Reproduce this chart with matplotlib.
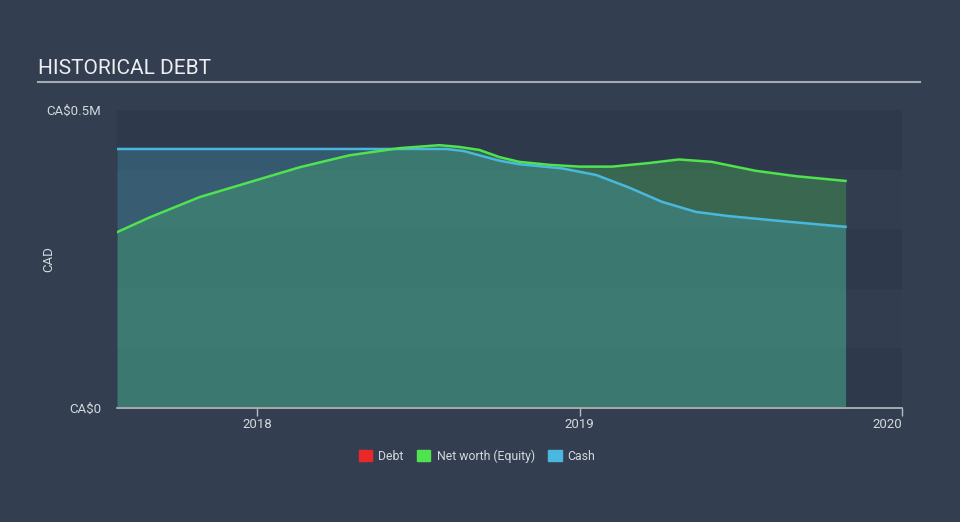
import matplotlib
matplotlib.use("Agg")
import matplotlib.pyplot as plt
from matplotlib.patches import Patch

plt.rcParams['font.family'] = ['Roboto', 'DejaVu Sans']

# values (x in fractional years, y in CA$ millions)
networth_x = [2017.565, 2017.667, 2017.822, 2017.977, 2018.132, 2018.286, 2018.441,
              2018.565, 2018.627, 2018.689, 2018.751, 2018.813, 2018.906, 2018.999,
              2019.101, 2019.215, 2019.308, 2019.410, 2019.546, 2019.670, 2019.825]
networth_y = [0.295, 0.320, 0.354, 0.379, 0.404, 0.424, 0.436,
              0.441, 0.438, 0.433, 0.421, 0.413, 0.408, 0.405,
              0.405, 0.411, 0.417, 0.413, 0.398, 0.389, 0.381]

cash_x = [2017.565, 2018.587, 2018.642, 2018.689, 2018.751, 2018.813, 2018.946,
          2019.051, 2019.153, 2019.255, 2019.361, 2019.463, 2019.618, 2019.825]
cash_y = [0.4346, 0.4346, 0.431, 0.424, 0.415, 0.409, 0.402,
          0.391, 0.370, 0.346, 0.329, 0.322, 0.314, 0.304]

debt_x = [2017.565, 2019.825]
debt_y = [0.0, 0.0]

year_ticks = [2018, 2019, 2020]

bg = "#333f50"
txt = "#d4d8de"
c_debt = "#e8282b"
c_nw = "#4fe34f"
c_cash = "#4ab8de"

fig = plt.figure(figsize=(9.6, 5.22), dpi=100, facecolor=bg)
ax = fig.add_axes([117/960, 1 - 408/522, (902-117)/960, (408-110)/522])
ax.set_facecolor(bg)

# banded background
band_cols = ["#2e3a4b", "#323e4f"]
for i in range(5):
    ax.axhspan(0.5 - (i+1)*0.1, 0.5 - i*0.1, color=band_cols[i % 2], lw=0, zorder=0)

ax.fill_between(networth_x, 0, networth_y, color=c_nw, alpha=0.25, lw=0, zorder=1)
ax.fill_between(cash_x, 0, cash_y, color=c_cash, alpha=0.25, lw=0, zorder=2)
ax.plot(networth_x, networth_y, color=c_nw, lw=1.8, zorder=4, solid_joinstyle="round")
ax.plot(cash_x, cash_y, color=c_cash, lw=1.8, zorder=3, solid_joinstyle="round")
ax.plot(debt_x, debt_y, color=c_debt, lw=1.0, alpha=0.6, zorder=5)

ax.set_xlim(2017.565, 2020.0)
ax.set_ylim(0, 0.5)

for s in ["top", "right", "left"]:
    ax.spines[s].set_visible(False)
ax.spines["bottom"].set_color("#b8bcc4")
ax.spines["bottom"].set_linewidth(1.2)

ax.set_xticks(year_ticks)
ax.set_xticklabels([str(y) for y in year_ticks])
ax.tick_params(axis="x", colors="#b8bcc4", labelcolor=txt, labelsize=9.5, length=6, width=1, pad=1.5)
ax.get_xticklabels()[-1].set_horizontalalignment("right")
ax.set_yticks([0, 0.5])
ax.set_yticklabels(["CA$0", "CA$0.5M"])
ax.tick_params(axis="y", length=0, labelcolor=txt, labelsize=9.5, pad=11.5)
ax.set_ylabel("CAD", color=txt, fontsize=9.5)
ax.yaxis.set_label_coords((55 - 117) / 785, 0.5)

fig.text(38/960, 1 - 68/522, "HISTORICAL DEBT", color="#eceef1", fontsize=15,
         ha="left", va="center")
fig.add_artist(plt.Line2D([38/960, 920/960], [1 - 82/522, 1 - 82/522],
                          color="#a6aab2", lw=1.5))

handles = [Patch(color=c_debt, label="Debt"),
           Patch(color=c_nw, label="Net worth (Equity)"),
           Patch(color=c_cash, label="Cash")]
fig.legend(handles=handles, loc="center", bbox_to_anchor=(477/960, 1 - 456/522),
           ncol=3, frameon=False, fontsize=8.8, labelcolor=txt,
           handlelength=1.1, handleheight=1.1, handletextpad=0.5, columnspacing=1.1)

fig.savefig("out.png", dpi=100, facecolor=bg)
